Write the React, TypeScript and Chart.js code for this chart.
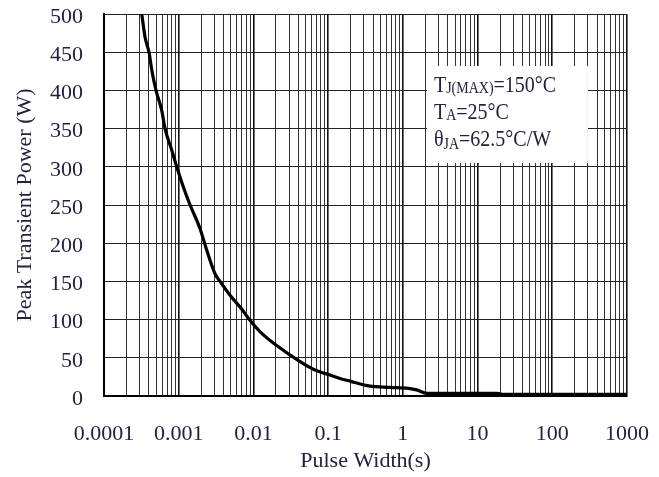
import React, { useEffect, useRef } from "react";
import { Chart, registerables } from "chart.js";

Chart.register(...registerables);

// Pulse width (s) and peak transient power (W)
const pulseWidth = [
  3.2e-4, 3.54e-4, 4.04e-4, 4.35e-4, 4.97e-4, 5.92e-4, 6.56e-4, 8.06e-4, 9.4e-4, 1.15e-3,
  1.42e-3, 1.93e-3, 2.37e-3, 3.06e-3, 3.57e-3, 4.86e-3, 7.33e-3, 8.81e-3, 0.0123, 0.0205,
  0.0421, 0.0634, 0.0863, 0.106, 0.144, 0.196, 0.364, 0.674, 1.19, 1.53,
  2.09, 18.1, 22.1, 1000,
];
const peakPower = [
  500, 470, 448, 427, 400, 374, 350, 322, 300, 274,
  250, 219, 191, 160, 150, 132, 111, 100, 84, 66,
  45, 35, 30, 27.5, 23, 19.5, 13, 11.4, 10, 8,
  3.5, 3.5, 2, 2,
];

const xDecades = [1e-4, 1e-3, 1e-2, 1e-1, 1, 10, 100, 1000];
const xTickLabels = ["0.0001", "0.001", "0.01", "0.1", "1", "10", "100", "1000"];
const yMin = 0;
const yMax = 500;
const yStep = 50;

const xTitle = "Pulse Width(s)";
const yTitle = "Peak Transient Power (W)";

const noteLines = [
  { main: "T", sub: "J(MAX)", rest: "=150°C" },
  { main: "T", sub: "A", rest: "=25°C" },
  { main: "θ", sub: "JA", rest: "=62.5°C/W" },
];
const noteBoxX = [2.1, 300];
const noteBoxY = [305, 432];

const FONT = "'Liberation Serif', 'Times New Roman', serif";
const TEXT = "#22223f";

function decadeIndex(v: number) {
  return xDecades.findIndex((d) => Math.abs(d - v) / d < 1e-9);
}

function zeroPadding(scale: any) {
  scale.paddingTop = 0;
  scale.paddingBottom = 0;
  scale.paddingLeft = 0;
  scale.paddingRight = 0;
}

const notePlugin = {
  id: "note",
  beforeDatasetsDraw(chart: any) {
    const { ctx, scales } = chart;
    const x0 = scales.x.getPixelForValue(noteBoxX[0]);
    const x1 = scales.x.getPixelForValue(noteBoxX[1]);
    const y0 = scales.y.getPixelForValue(noteBoxY[1]);
    const y1 = scales.y.getPixelForValue(noteBoxY[0]);
    ctx.save();
    ctx.fillStyle = "#ffffff";
    ctx.fillRect(x0, y0, x1 - x0, y1 - y0);
    ctx.restore();
  },
  afterDatasetsDraw(chart: any) {
    const { ctx, scales } = chart;
    const x0 = scales.x.getPixelForValue(noteBoxX[0]);
    const y0 = scales.y.getPixelForValue(noteBoxY[1]);
    ctx.save();
    ctx.fillStyle = TEXT;
    ctx.textBaseline = "alphabetic";
    ctx.textAlign = "left";
    noteLines.forEach((ln, i) => {
      const by = y0 + 26 + i * 27;
      ctx.save();
      ctx.translate(x0 + 7, by);
      ctx.scale(1, 1.15);
      let x = 0;
      ctx.font = `20px ${FONT}`;
      ctx.fillText(ln.main, x, 0);
      x += ctx.measureText(ln.main).width;
      ctx.font = `14px ${FONT}`;
      ctx.fillText(ln.sub, x, i === 2 ? 3 : 1);
      x += ctx.measureText(ln.sub).width;
      ctx.font = `20px ${FONT}`;
      ctx.fillText(ln.rest, x, 0);
      ctx.restore();
    });
    ctx.restore();
  },
};

export default function App() {
  const ref = useRef<HTMLCanvasElement | null>(null);

  useEffect(() => {
    if (!ref.current) return;
    const xTickValues: number[] = [];
    for (let i = 0; i < xDecades.length - 1; i++) {
      for (let k = 1; k <= 9; k++) xTickValues.push(k * xDecades[i]);
    }
    xTickValues.push(xDecades[xDecades.length - 1]);

    const chart = new Chart(ref.current, {
      type: "line",
      data: {
        datasets: [
          {
            data: pulseWidth.map((x, i) => ({ x, y: peakPower[i] })),
            borderColor: "#000",
            borderWidth: 3.2,
            pointRadius: 0,
            fill: false,
            cubicInterpolationMode: "monotone",
          },
        ],
      },
      options: {
        animation: false,
        responsive: true,
        maintainAspectRatio: false,
        layout: { padding: { top: 14, right: 32, left: 0, bottom: 0 } },
        plugins: { legend: { display: false }, tooltip: { enabled: false } },
        scales: {
          x: {
            type: "logarithmic",
            min: xDecades[0],
            max: xDecades[xDecades.length - 1],
            afterBuildTicks: (scale: any) => {
              scale.ticks = xTickValues.map((value) => ({ value }));
            },
            afterFit: (scale: any) => {
              scale.height = 81;
              zeroPadding(scale);
            },
            ticks: {
              autoSkip: false,
              maxRotation: 0,
              padding: 25,
              color: TEXT,
              font: { family: FONT, size: 22 },
              callback: (value: any) => {
                const i = decadeIndex(Number(value));
                return i >= 0 ? xTickLabels[i] : "";
              },
            },
            grid: {
              drawTicks: false,
              color: (c: any) => (decadeIndex(c.tick?.value) >= 0 ? "#111" : "#333"),
              lineWidth: (c: any) => (decadeIndex(c.tick?.value) >= 0 ? 1.6 : 1),
            },
            border: { color: "#000", width: 2 },
            title: {
              display: true,
              text: xTitle,
              color: TEXT,
              font: { family: FONT, size: 22 },
              padding: { top: 0, bottom: 3 },
            },
          },
          y: {
            type: "linear",
            min: yMin,
            max: yMax,
            afterFit: (scale: any) => {
              scale.width = 104;
              zeroPadding(scale);
            },
            ticks: {
              stepSize: yStep,
              padding: 21,
              labelOffset: 3,
              color: TEXT,
              font: { family: FONT, size: 22 },
            },
            grid: { drawTicks: false, color: "#222", lineWidth: 1 },
            border: { color: "#000", width: 2 },
            title: {
              display: true,
              text: yTitle,
              color: TEXT,
              font: { family: FONT, size: 22 },
              padding: { top: 12, bottom: 0 },
            },
          },
        },
      },
      plugins: [notePlugin],
    } as any);
    return () => chart.destroy();
  }, []);

  return (
    <div style={{ position: "absolute", left: 0, top: 0, width: 659, height: 477, background: "#fff" }}>
      <canvas ref={ref} />
    </div>
  );
}
